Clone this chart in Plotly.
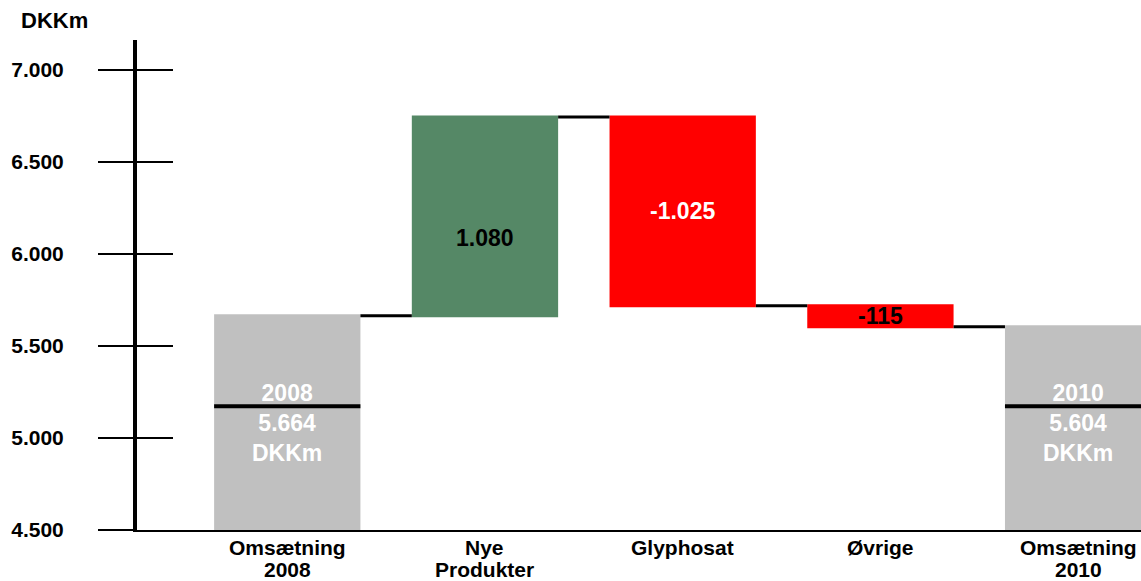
import plotly.graph_objects as go

# ---- data ----
categories = ["Omsætning<br>2008", "Nye<br>Produkter", "Glyphosat", "Øvrige", "Omsætning<br>2010"]
measures = ["absolute", "relative", "relative", "relative", "total"]
values = [5664, 1080, -1025, -115, 0]
bar_labels = ["2008<br>5.664<br>DKKm", "1.080", "-1.025", "-115", "2010<br>5.604<br>DKKm"]
y_tick_values = [4500, 5000, 5500, 6000, 6500, 7000]
y_tick_labels = ["4.500", "5.000", "5.500", "6.000", "6.500", "7.000"]
y_unit = "DKKm"
marker_level = 5172  # horizontal black marker line drawn across the total bars

# ---- style ----
Y_MIN, Y_MAX = 4500, 7163
X_RANGE = [-0.76, 4.318]
BAR_W = 0.74
GREEN, RED, GRAY = "#558866", "#FF0000", "#C0C0C0"
label_colors = ["white", "black", "white", "black", "white"]
FONT = "Liberation Sans, Arial, sans-serif"

fig = go.Figure()
fig.add_trace(go.Waterfall(
    x=categories, y=values, measure=measures,
    width=BAR_W,
    increasing=dict(marker=dict(color=GREEN)),
    decreasing=dict(marker=dict(color=RED)),
    totals=dict(marker=dict(color=GRAY)),
    connector=dict(mode="between", line=dict(color="black", width=3)),
    showlegend=False, hoverinfo="skip",
))
# invisible trace for the inner tick overlay axis
fig.add_trace(go.Scatter(x=[categories[0]], y=[Y_MIN], yaxis="y2", mode="markers",
                         marker=dict(opacity=0), showlegend=False, hoverinfo="skip"))

# labels of the total bars share the height of the starting bar's visible middle
total_label_y = (Y_MIN + values[0]) / 2

running = 0
annotations = []
shapes = []
for i, (m, v) in enumerate(zip(measures, values)):
    if m == "absolute":
        lo, hi = 0, v
        running = v
    elif m == "total":
        lo, hi = 0, running
    else:
        lo, hi = sorted([running, running + v])
        running += v
    if m in ("absolute", "total"):
        mid = total_label_y
    else:
        mid = (max(lo, Y_MIN) + hi) / 2
    annotations.append(dict(
        x=i, y=mid, xref="x", yref="y", text="<b>%s</b>" % bar_labels[i],
        showarrow=False, font=dict(family=FONT, size=23, color=label_colors[i]),
        yshift=-22 if i == 1 else 0,
    ))
    if m in ("absolute", "total"):
        shapes.append(dict(type="line", xref="x", yref="y",
                           x0=i - BAR_W / 2, x1=i + BAR_W / 2,
                           y0=marker_level, y1=marker_level,
                           line=dict(color="black", width=4)))
    # category label, line by line
    for k, line in enumerate(categories[i].split("<br>")):
        annotations.append(dict(
            x=i, y=0, xref="x", yref="paper", yanchor="middle",
            yshift=-17 - 22 * k, text="<b>%s</b>" % line, showarrow=False,
            font=dict(family=FONT, size=21, color="black"),
        ))

annotations.append(dict(
    xref="paper", yref="paper", x=0, y=1, xshift=-118, yshift=20,
    xanchor="left", yanchor="middle", text="<b>%s</b>" % y_unit, showarrow=False,
    font=dict(family=FONT, size=22, color="black"),
))

fig.update_layout(
    width=1141, height=581,
    margin=dict(l=137, r=0, t=40, b=51),
    paper_bgcolor="white", plot_bgcolor="white",
    font=dict(family=FONT, size=21, color="black"),
    annotations=annotations, shapes=shapes,
    xaxis=dict(
        type="category", range=X_RANGE, automargin=False,
        showticklabels=False,
        showline=True, linecolor="black", linewidth=2,
        ticks="", showgrid=False, zeroline=False,
    ),
    yaxis=dict(
        range=[Y_MIN, Y_MAX], tickvals=y_tick_values, automargin=False,
        ticktext=["<b>%s</b>" % t for t in y_tick_labels],
        showline=True, linecolor="black", linewidth=4,
        ticks="outside", ticklen=35, tickwidth=2, tickcolor="black",
        ticklabelstandoff=30,
        showgrid=False, zeroline=False,
        tickfont=dict(family=FONT, size=21, color="black"),
    ),
    yaxis2=dict(
        overlaying="y", anchor="x", side="left", automargin=False,
        range=[Y_MIN, Y_MAX], tickvals=y_tick_values,
        ticks="inside", ticklen=36, tickwidth=2, tickcolor="black",
        showticklabels=False, showline=False, showgrid=False, zeroline=False,
    ),
)

fig.write_html("out.html", config={"displayModeBar": False},
               post_script="document.body.style.margin='0px';")
